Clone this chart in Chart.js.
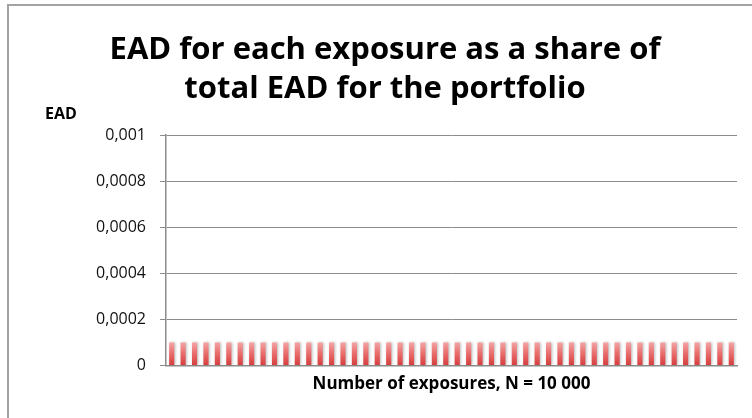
<!DOCTYPE html>
<html>
<head>
<meta charset="utf-8">
<script src="https://cdn.jsdelivr.net/npm/chart.js@4.4.0/dist/chart.umd.min.js"></script>
<style>
  html, body { margin: 0; padding: 0; background: #fff; overflow: hidden; }
  #wrap { position: relative; width: 752px; height: 418px; }
  #frame { position: absolute; left: 7px; top: 4px; width: 800px; height: 500px; border: 2px solid #a3a3a3; }
  canvas { position: absolute; left: 0; top: 0; }
</style>
</head>
<body>
<div id="wrap">
  <div id="frame"></div>
  <canvas id="eadChart" width="752" height="418"></canvas>
</div>
<script>
const titleLines = ['EAD for each exposure as a share of', 'total EAD for the portfolio'];
const yAxisLabel = 'EAD';
const xAxisLabel = 'Number of exposures, N = 10 000';

// one bar per exposure group shown in the picture
const exposures = [
  '1', '2', '3', '4', '5', '6', '7', '8', '9', '10',
  '11', '12', '13', '14', '15', '16', '17', '18', '19', '20',
  '21', '22', '23', '24', '25', '26', '27', '28', '29', '30',
  '31', '32', '33', '34', '35', '36', '37', '38', '39', '40',
  '41', '42', '43', '44', '45', '46', '47', '48', '49', '50'
];
const eadShare = [
  0.0001, 0.0001, 0.0001, 0.0001, 0.0001, 0.0001, 0.0001, 0.0001, 0.0001, 0.0001,
  0.0001, 0.0001, 0.0001, 0.0001, 0.0001, 0.0001, 0.0001, 0.0001, 0.0001, 0.0001,
  0.0001, 0.0001, 0.0001, 0.0001, 0.0001, 0.0001, 0.0001, 0.0001, 0.0001, 0.0001,
  0.0001, 0.0001, 0.0001, 0.0001, 0.0001, 0.0001, 0.0001, 0.0001, 0.0001, 0.0001,
  0.0001, 0.0001, 0.0001, 0.0001, 0.0001, 0.0001, 0.0001, 0.0001, 0.0001, 0.0001
];
const yTickValues = [0, 0.0002, 0.0004, 0.0006, 0.0008, 0.001];
const yTickLabels = ['0', '0,0002', '0,0004', '0,0006', '0,0008', '0,001'];

const fontFamily = '"Open Sans", Lato, sans-serif';

function barGradient(context) {
    const chart = context.chart;
    const area = chart.chartArea;
    if (!area) return '#e05555';
    const y0 = chart.scales.y.getPixelForValue(0.0001);
    const g = chart.ctx.createLinearGradient(0, y0, 0, area.bottom);
    g.addColorStop(0, '#f5a3a3');
    g.addColorStop(0.5, '#e86a6a');
    g.addColorStop(1, '#d63c3c');
    return g;
}

// bars in the original have a soft grey drop shadow
const barShadow = {
    id: 'barShadow',
    beforeDatasetsDraw(chart) {
        const ctx = chart.ctx;
        ctx.save();
        ctx.shadowColor = 'rgba(0,0,0,0.28)';
        ctx.shadowBlur = 3;
        ctx.shadowOffsetX = 1;
        ctx.shadowOffsetY = 0;
    },
    afterDatasetsDraw(chart) {
        chart.ctx.restore();
    }
};

// horizontal axis name above the y ticks
const yAxisName = {
    id: 'yAxisName',
    afterDraw(chart) {
        const ctx = chart.ctx;
        ctx.save();
        ctx.font = 'bold 16px ' + fontFamily;
        ctx.fillStyle = '#000';
        ctx.textAlign = 'left';
        ctx.textBaseline = 'alphabetic';
        ctx.fillText(yAxisLabel, 45, 119);
        ctx.restore();
    }
};

const ctx = document.getElementById('eadChart').getContext('2d');
new Chart(ctx, {
    type: 'bar',
    data: {
        labels: exposures,
        datasets: [{
            data: eadShare,
            backgroundColor: barGradient,
            borderWidth: 0,
            barPercentage: 0.45,
            categoryPercentage: 1
        }]
    },
    options: {
        responsive: false,
        animation: false,
        layout: { padding: { left: 33, right: 15, top: 0, bottom: 20 } },
        plugins: {
            legend: { display: false },
            tooltip: { enabled: false },
            title: {
                display: true,
                text: titleLines,
                color: '#000',
                font: { family: fontFamily, size: 31, weight: 'bold', lineHeight: 1.26 },
                padding: { top: 31, bottom: 26 }
            }
        },
        scales: {
            x: {
                grid: { display: true, drawOnChartArea: false, drawTicks: false },
                border: { color: '#8c8c8c', width: 1.5 },
                ticks: { display: false },
                title: {
                    display: true,
                    text: xAxisLabel,
                    color: '#000',
                    font: { family: fontFamily, size: 17, weight: 'bold', lineHeight: 1.2 },
                    padding: { top: 8, bottom: 4 }
                }
            },
            y: {
                min: 0,
                max: 0.001,
                afterFit(scale) { scale.width = 133; },
                afterBuildTicks(scale) {
                    scale.ticks = yTickValues.map(v => ({ value: v }));
                },
                ticks: {
                    color: '#111',
                    font: { family: fontFamily, size: 16 },
                    padding: 14,
                    callback: (v, i) => yTickLabels[i]
                },
                grid: { color: '#8c8c8c', lineWidth: 1, tickLength: 6 },
                border: { color: '#8c8c8c', width: 1.5 }
            }
        }
    },
    plugins: [barShadow, yAxisName]
});
</script>
</body>
</html>
